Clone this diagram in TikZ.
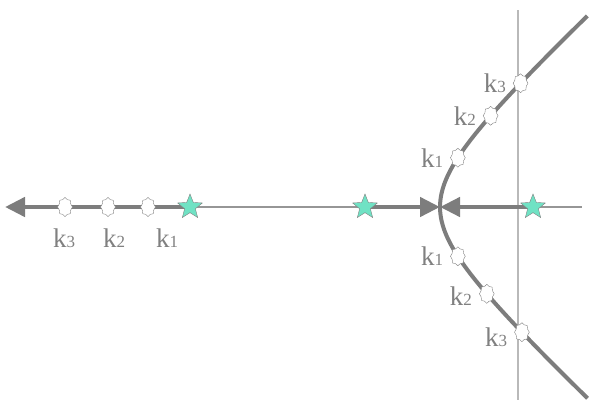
\documentclass[tikz,border=0pt]{standalone}
\usepackage{fontspec}
\setmainfont{Liberation Serif}
\usetikzlibrary{shapes.geometric,arrows.meta,positioning}

\definecolor{locus}{RGB}{125,125,125}
\definecolor{axisgray}{RGB}{150,150,150}
\definecolor{gridgray}{RGB}{185,185,185}
\definecolor{polecol}{RGB}{112,226,196}
\newcommand{\kgain}[1]{k{\fontsize{17}{17}\selectfont #1}}

\begin{document}
\begin{tikzpicture}[x=1pt,y=1pt,>={Triangle[length=20pt,width=19pt]},
    pole/.style={star,star points=5,star point ratio=2.3,minimum size=26pt,
        inner sep=0pt,draw=gray,fill=polecol},
    gainmark/.style={star,star points=8,star point ratio=1.2,minimum size=19pt,
        inner sep=0pt,draw=gray,fill=white,xscale=0.78,transform shape},
    gainlabel/.style={text=gray,font=\fontsize{27}{27}\selectfont,inner sep=0pt},
    branch/.style={line width=4.5pt,locus}]

\useasboundingbox (0,-198) rectangle (596,207);

% poles, the tip on the left and the break-away point
\coordinate (p1) at (190,0);
\coordinate (p2) at (365,0);
\coordinate (p3) at (533,0);
\coordinate (tip) at (5,0);
\coordinate (brk) at (440,0);

% draw the axes
\draw[axisgray,line width=1.2pt] (p1) -- (582,0);
\draw[gridgray,line width=1.2pt] (518,197) -- (518,-193);

% draw the loci on the real axis
\draw[branch,->] (p1) -- (tip);
\draw[branch,->] (p2) -- (brk);
\draw[branch,->] (p3) -- (brk);

% draw the hyperbola
\draw[branch,line width=4pt] plot[variable=\t,domain=-1.8:1.8,samples=60,smooth]
    ({370+70*cosh(\t)},{65*sinh(\t)});

\node[pole] (s1) at (p1) {};
\node[pole] (s2) at (p2) {};
\node[pole] (s3) at (p3) {};

% gain marks on the real axis
\node[gainmark] (a3) at (65,0) {};
\node[gainmark] (a2) at (108,0) {};
\node[gainmark] (a1) at (148,0) {};
\node[gainlabel] (la3) at (64,-31) {\kgain{3}};
\node[gainlabel] (la2) at (114,-31) {\kgain{2}};
\node[gainlabel] (la1) at (167,-31) {\kgain{1}};

% gain marks on the hyperbola
\node[gainmark] (u1) at ({370+70*cosh(0.70)},{65*sinh(0.70)}) {};
\node[gainmark] (u2) at ({370+70*cosh(1.14)},{65*sinh(1.14)}) {};
\node[gainmark] (u3) at ({370+70*cosh(1.40)},{65*sinh(1.40)}) {};
\node[gainmark] (d1) at ({370+70*cosh(-0.70)},{65*sinh(-0.70)}) {};
\node[gainmark] (d2) at ({370+70*cosh(-1.10)},{65*sinh(-1.10)}) {};
\node[gainmark] (d3) at ({370+70*cosh(-1.41)},{65*sinh(-1.41)}) {};
\node[gainlabel,left=7pt of u1] (lu1) {\kgain{1}};
\node[gainlabel,left=7pt of u2] (lu2) {\kgain{2}};
\node[gainlabel,left=7pt of u3] (lu3) {\kgain{3}};
\node[gainlabel,left=7pt of d1] (ld1) {\kgain{1}};
\node[gainlabel,left=7pt of d2,yshift=-2pt] (ld2) {\kgain{2}};
\node[gainlabel,left=7pt of d3,yshift=-5pt] (ld3) {\kgain{3}};
\end{tikzpicture}
\end{document}
